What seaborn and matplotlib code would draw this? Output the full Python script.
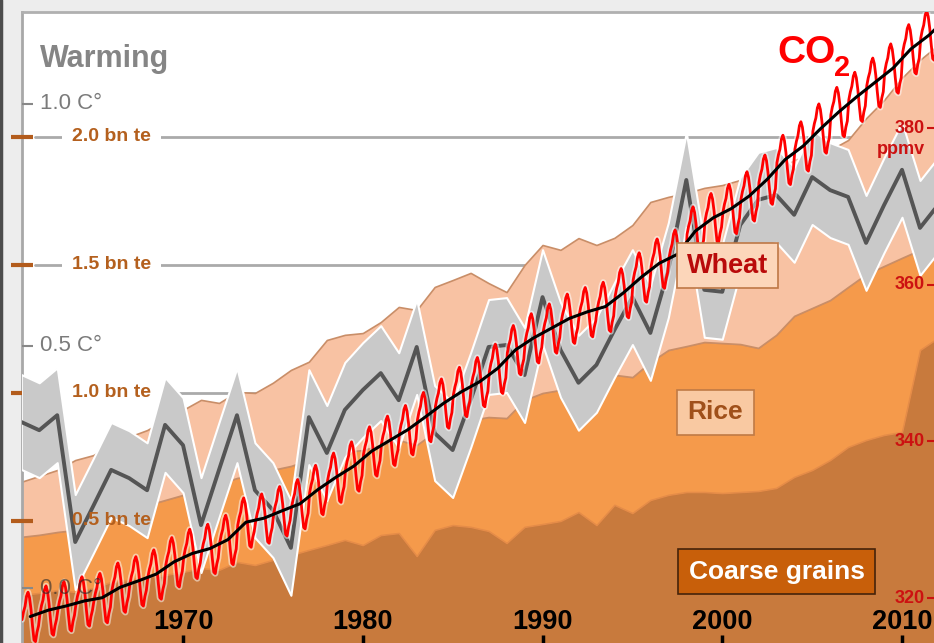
import matplotlib
matplotlib.use("Agg")
import matplotlib.pyplot as plt
import seaborn as sns

# years of the record (2012 only reaches the right edge)
years = list(range(1961, 2013))

# cereal production, bn tonnes (stacked: coarse grains, rice, wheat)
coarse_grains = [0.211, 0.219, 0.230, 0.223, 0.238, 0.262, 0.270, 0.281, 0.289, 0.301,
                 0.316, 0.309, 0.340, 0.328, 0.348, 0.367, 0.387, 0.406, 0.426, 0.406,
                 0.445, 0.453, 0.363, 0.465, 0.484, 0.477, 0.461, 0.414, 0.477, 0.488,
                 0.500, 0.535, 0.484, 0.563, 0.531, 0.582, 0.602, 0.613, 0.613, 0.609,
                 0.613, 0.617, 0.629, 0.672, 0.699, 0.738, 0.789, 0.816, 0.836, 0.848,
                 1.168, 1.215]
rice = [0.227, 0.227, 0.227, 0.242, 0.246, 0.250, 0.266, 0.281, 0.293, 0.301,
        0.305, 0.336, 0.328, 0.352, 0.352, 0.348, 0.352, 0.344, 0.344, 0.371,
        0.352, 0.363, 0.434, 0.383, 0.391, 0.418, 0.445, 0.488, 0.496, 0.512,
        0.512, 0.484, 0.547, 0.508, 0.531, 0.539, 0.566, 0.570, 0.586, 0.586,
        0.578, 0.559, 0.598, 0.629, 0.633, 0.625, 0.625, 0.648, 0.660, 0.680,
        0.391, 0.363]
wheat = [0.215, 0.230, 0.242, 0.273, 0.273, 0.285, 0.293, 0.293, 0.313, 0.332,
         0.352, 0.316, 0.336, 0.320, 0.340, 0.375, 0.383, 0.457, 0.457, 0.457,
         0.480, 0.520, 0.527, 0.566, 0.566, 0.574, 0.523, 0.492, 0.527, 0.578,
         0.547, 0.586, 0.547, 0.535, 0.594, 0.625, 0.598, 0.598, 0.602, 0.617,
         0.641, 0.664, 0.637, 0.609, 0.598, 0.586, 0.574, 0.609, 0.648, 0.703,
         0.742, 0.781]

# global temperature anomaly, C
warming = [0.343, 0.326, 0.357, 0.095, 0.169, 0.244, 0.227, 0.202, 0.337, 0.295,
           0.130, 0.244, 0.357, 0.202, 0.161, 0.083, 0.353, 0.279, 0.368, 0.409,
           0.444, 0.388, 0.498, 0.320, 0.285, 0.388, 0.498, 0.502, 0.440, 0.601,
           0.492, 0.424, 0.461, 0.533, 0.601, 0.527, 0.657, 0.843, 0.616, 0.612,
           0.750, 0.802, 0.812, 0.771, 0.849, 0.822, 0.808, 0.713, 0.791, 0.864,
           0.744, 0.791]
warming_err = 0.098

# CO2, ppmv: annual means and the seasonal swing by month
co2_annual = [317.64, 318.45, 318.99, 319.62, 320.04, 321.37, 322.18, 323.05, 324.62, 325.68,
              326.32, 327.46, 329.68, 330.19, 331.13, 332.03, 333.84, 335.41, 336.84, 338.76,
              340.12, 341.48, 343.15, 344.87, 346.35, 347.61, 349.31, 351.69, 353.20, 354.45,
              355.70, 356.54, 357.21, 358.96, 360.97, 362.74, 363.88, 366.84, 368.54, 369.71,
              371.32, 373.45, 375.98, 377.70, 379.98, 382.09, 384.02, 385.83, 387.64, 390.10,
              391.85, 394.06]
co2_season = [-0.4, 0.6, 1.3, 2.6, 3.1, 2.4, 0.9, -1.2, -3.0, -3.2, -2.0, -1.2]

grain_ticks = [0.5, 1.0, 1.5, 2.0]
grain_labels = ["0.5 bn te", "1.0 bn te", "1.5 bn te", "2.0 bn te"]
temp_ticks = [0.0, 0.5, 1.0]
temp_labels = ["0.0 C°", "0.5 C°", "1.0 C°"]
co2_ticks = [320, 340, 360, 380]
decades = [1970, 1980, 1990, 2000, 2010]

sns.set_style("white")
plt.rcParams['font.family'] = ['Liberation Sans', 'DejaVu Sans']

fig = plt.figure(figsize=(9.34, 6.43), dpi=100, facecolor='#ededed')
fig.add_artist(plt.Line2D([0.0015, 0.0015], [0, 1], color='#4d4d4d', lw=2.5,
                          transform=fig.transFigure))
ax = fig.add_axes([22 / 934, 0, 912 / 934, 631 / 643])
ax.set_facecolor('white')
ax.set_xlim(1961.04, 2011.78)
ax.set_ylim(0.0234, 2.488)

# grain layers
for v in [1.0, 1.5, 2.0]:
    ax.axhline(v, xmin=0.014, color='#aaaaaa', lw=2, zorder=0.5)
polys = ax.stackplot(years, coarse_grains, rice, wheat,
                     colors=['#c87a3d', '#f59a4b', '#f8c2a3'], zorder=1)
for p, ec in zip(polys, ['#bd7038', '#e58c48', '#c98e68']):
    p.set_edgecolor(ec)
    p.set_linewidth(1.2)

for v, lab in zip(grain_ticks[1:], grain_labels[1:]):
    ax.text(0.0548, v, lab, transform=ax.get_yaxis_transform(), ha='left', va='center',
            fontsize=14, fontweight='bold', color='#b4601e', zorder=2,
            bbox=dict(boxstyle='square,pad=0.5', fc='white', ec='none'))

ax.set_yticks(grain_ticks)
ax.set_yticklabels([])
ax.tick_params(axis='y', direction='inout', length=16, width=3, color='#b35c1c', left=True)
ax.yaxis.set_zorder(3)
ax.set_xticks(decades)
ax.set_xticklabels([])
ax.tick_params(axis='x', direction='in', length=6, width=2.5, color='black', bottom=True)
for s in ['right', 'bottom']:
    ax.spines[s].set_visible(False)
ax.spines['left'].set_color('#a8a8a8')
ax.spines['left'].set_linewidth(2)
ax.spines['top'].set_color('#b0b0b0')
ax.spines['top'].set_linewidth(2)

# temperature
ax_t = ax.twinx()
ax_t.set_ylim(-0.1136, 1.190)
lo = [t - warming_err for t in warming]
hi = [t + warming_err for t in warming]
ax_t.fill_between(years, lo, hi, color='#c9c9c9', edgecolor='white', lw=1.5, zorder=1)
sns.lineplot(x=years, y=warming, ax=ax_t, color='#555555', lw=2.8, zorder=2)
ax_t.yaxis.tick_left()
ax_t.set_yticks(temp_ticks)
ax_t.set_yticklabels([])
ax_t.tick_params(axis='y', direction='in', length=8, width=1.5, color='#888888',
                 left=True, right=False, labelleft=False, labelright=False)
ax_t.text(0.0197, 0.913, "Warming", transform=ax_t.transAxes, ha='left', va='baseline',
          fontsize=22, fontweight='bold', color='#858585')
ax_t.text(0.0548, grain_ticks[0], grain_labels[0], transform=ax.get_yaxis_transform(),
          ha='left', va='center', fontsize=14, fontweight='bold', color='#b4601e', zorder=3)
ax_t.set_ylabel('')

# CO2
ax_c = ax.twinx()
ax_c.set_ylim(314.26, 394.81)
months_x = [y + (m + 0.5) / 12 for y in years for m in range(12)]
co2_monthly = [c + s for c in co2_annual for s in co2_season]
ax_c.plot(months_x, co2_monthly, color='white', lw=4.5, alpha=0.5, zorder=1)
sns.lineplot(x=months_x, y=co2_monthly, ax=ax_c, color='#ff0000', lw=2, zorder=2)
sns.lineplot(x=[y + 0.5 for y in years], y=co2_annual, ax=ax_c, color='black', lw=2.2, zorder=3)

# temperature tick labels
for v, lab in zip(temp_ticks, temp_labels):
    ax_c.text(0.0197, v, lab, transform=ax_t.get_yaxis_transform(), ha='left', va='center',
              fontsize=16, color='#2a2a2a', alpha=0.62, zorder=5)

ax_c.set_yticks(co2_ticks)
ax_c.set_yticklabels([])
ax_c.tick_params(axis='y', direction='in', length=5, width=1.5, color='#cc1111',
                 right=True, labelright=False)
ax_c.xaxis.set_visible(True)
ax_c.set_xticks(decades)
ax_c.set_xticklabels([])
ax_c.tick_params(axis='x', direction='in', length=6, width=2.5, color='black',
                 bottom=True, top=False)
for v in co2_ticks:
    ax_c.text(0.990, v, str(v), transform=ax_c.get_yaxis_transform(), ha='right', va='center',
              fontsize=13, fontweight='bold', color='#cc1111')
ax_c.text(0.990, 377.3, "ppmv", transform=ax_c.get_yaxis_transform(), ha='right', va='center',
          fontsize=13, fontweight='bold', color='#cc1111')
ax_c.text(0.828, 0.919, "CO", transform=ax_c.transAxes, ha='left', va='baseline',
          fontsize=28, fontweight='bold', color='#ff0000')
ax_c.text(0.890, 0.899, "2", transform=ax_c.transAxes, ha='left', va='baseline',
          fontsize=21, fontweight='bold', color='#ff0000')
ax_c.set_ylabel('')

# crop labels, on top of everything
ax_c.text(2000.29, 1.496, "Wheat", transform=ax.transData, ha='center', va='center',
          fontsize=19.5, fontweight='bold', color='#b90a0a', zorder=10,
          bbox=dict(boxstyle='square,pad=0.35', fc='#fcd6ba', ec='#be7846', lw=1.2))
ax_c.text(1999.62, 0.924, "Rice", transform=ax.transData, ha='center', va='center',
          fontsize=19, fontweight='bold', color='#a0501a', zorder=10,
          bbox=dict(boxstyle='square,pad=0.4', fc='#f9c9a2', ec='#c07a45', lw=1.2))
ax_c.text(2003.02, 0.301, "Coarse grains", transform=ax.transData, ha='center', va='center',
          fontsize=19, fontweight='bold', color='white', zorder=10,
          bbox=dict(boxstyle='square,pad=0.4', fc='#c85f0a', ec='#46230a', lw=1.2))

for yr in decades:
    ax_c.text(yr, 0.0333, str(yr), transform=ax_c.get_xaxis_transform(), ha='center',
              va='center', fontsize=19.5, fontweight='bold', color='black', zorder=10)

for a in [ax_t, ax_c]:
    for s in a.spines.values():
        s.set_visible(False)

fig.savefig("out.png", dpi=100, facecolor=fig.get_facecolor())
